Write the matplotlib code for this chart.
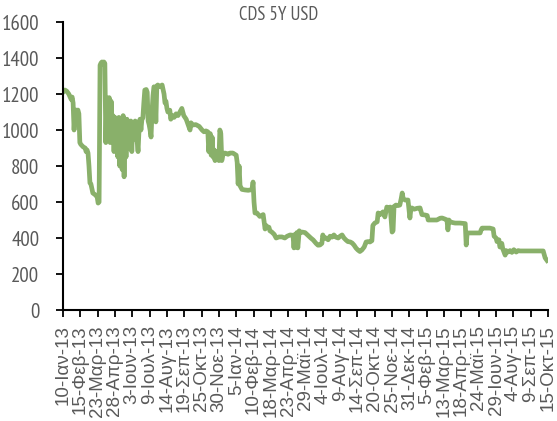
import pandas as pd
from matplotlib import pyplot as plt

start = pd.Timestamp('2013-01-10')
# days after 10-Jan-13 and the CDS level
days = [0, 4, 8, 12, 17, 19, 21, 23, 25, 27, 29, 31, 33, 35, 37, 42, 46, 48, 50, 52,
        54, 56, 58, 62, 67, 71, 73, 75, 77, 79, 81, 83, 85, 87, 89, 91, 94, 96, 98, 100,
        102, 104, 106, 108, 110, 112, 114, 116, 118, 121, 123, 125, 127, 129, 131, 133, 135, 137, 139, 141,
        143, 145, 148, 150, 152, 154, 156, 158, 160, 162, 164, 166, 168, 170, 173, 175, 177, 179, 181, 183,
        185, 187, 189, 191, 193, 195, 197, 202, 206, 210, 212, 214, 216, 218, 222, 224, 227, 231, 235, 239,
        243, 247, 249, 251, 256, 260, 264, 266, 270, 276, 283, 289, 293, 297, 301, 303, 306, 308, 310, 312,
        314, 316, 318, 320, 322, 324, 326, 328, 330, 333, 337, 343, 347, 353, 360, 362, 364, 366, 368, 370,
        372, 378, 385, 389, 393, 395, 397, 399, 403, 409, 416, 420, 422, 424, 428, 430, 434, 439, 443, 449,
        455, 461, 466, 472, 478, 480, 482, 484, 486, 488, 491, 493, 497, 503, 507, 511, 515, 520, 526, 530,
        534, 538, 540, 542, 547, 551, 555, 559, 563, 567, 572, 576, 580, 584, 588, 592, 597, 601, 605, 609,
        613, 617, 621, 626, 630, 634, 638, 642, 644, 648, 653, 655, 659, 665, 669, 673, 678, 680, 684, 686,
        688, 692, 696, 700, 703, 705, 707, 711, 717, 721, 723, 725, 730, 736, 742, 746, 752, 757, 759, 767,
        777, 784, 788, 794, 798, 800, 802, 804, 811, 815, 825, 836, 838, 840, 846, 856, 867, 869, 871, 877,
        887, 894, 896, 900, 902, 906, 908, 912, 914, 919, 921, 925, 929, 933, 937, 942, 946, 950, 971, 998,
        1002, 1006]
cds = [1210, 1222, 1215, 1200, 1170, 1183, 1150, 1000, 1100, 1111, 1100, 1111, 1090, 930, 920, 906, 900, 880, 889, 872,
       800, 706, 700, 650, 640, 628, 594, 600, 1360, 1372, 1378, 1365, 1378, 1370, 930, 1178, 1060, 1180, 930, 1160,
       1000, 1080, 880, 1070, 960, 1060, 850, 1070, 800, 1040, 780, 1080, 740, 1060, 850, 1060, 900, 1040, 920, 1050,
       880, 1040, 950, 1050, 980, 940, 880, 1000, 1060, 1000, 1060, 1067, 1150, 1222, 1225, 1210, 1050, 1030, 1000, 961,
       1100, 1190, 1240, 1230, 1045, 1245, 1250, 1240, 1250, 1200, 1150, 1160, 1120, 1100, 1110, 1060, 1080, 1070, 1090, 1080,
       1100, 1120, 1100, 1080, 1060, 1030, 1000, 1040, 1028, 1030, 1020, 1000, 990, 995, 990, 880, 980, 860, 960, 850,
       890, 830, 880, 840, 880, 830, 1000, 980, 830, 870, 872, 865, 872, 872, 860, 820, 700, 800, 690, 680,
       670, 667, 665, 667, 670, 711, 600, 539, 539, 520, 530, 450, 470, 461, 460, 440, 433, 420, 400, 406,
       406, 400, 410, 417, 415, 345, 420, 350, 430, 345, 440, 430, 433, 430, 420, 410, 400, 389, 370, 360,
       361, 370, 417, 400, 400, 390, 410, 405, 417, 405, 400, 410, 417, 400, 389, 380, 378, 372, 360, 344,
       333, 325, 333, 350, 378, 380, 378, 385, 470, 483, 490, 539, 530, 545, 517, 572, 560, 572, 433, 440,
       575, 583, 580, 583, 620, 650, 620, 611, 611, 511, 560, 567, 560, 565, 567, 530, 528, 525, 500, 500,
       500, 510, 511, 505, 500, 445, 500, 490, 485, 483, 483, 480, 361, 428, 428, 428, 428, 445, 455, 455,
       455, 450, 410, 400, 380, 390, 350, 370, 340, 305, 330, 322, 330, 320, 335, 322, 330, 328, 328, 328,
       290, 275]
months = ['Ιαν', 'Φεβ', 'Μαρ', 'Απρ', 'Μαϊ', 'Ιουν', 'Ιουλ', 'Αυγ', 'Σεπ', 'Οκτ', 'Νοε', 'Δεκ']
yticks = list(range(0, 1601, 200))

dates = start + pd.to_timedelta(days, unit='D')
tick_dates = pd.date_range(start, periods=29, freq='36D')
tick_labels = ['%d-%s-%02d' % (d.day, months[d.month - 1], d.year % 100) for d in tick_dates]

grey = '#595959'
narrow = ['PT Sans Narrow', 'DejaVu Sans']

fig = plt.figure(figsize=(5.57, 4.21), dpi=100)
axe = fig.add_axes([63 / 557, 1 - 310 / 421, 485 / 557, 288 / 421])
axe.plot(dates, cds, color='#89b06a', linewidth=3.4, solid_joinstyle='round')

axe.set_xlim(tick_dates[0], tick_dates[-1])
axe.set_ylim(0, 1600)
axe.set_yticks(yticks)
axe.set_yticklabels([str(v) for v in yticks], family=narrow, fontsize=15, color=grey)
axe.set_xticks(tick_dates)
axe.set_xticklabels(tick_labels, rotation=90, family=['Liberation Sans', 'DejaVu Sans'],
                    fontsize=13.5, color=grey)
axe.tick_params(axis='y', length=5, width=1.3, pad=12)
axe.tick_params(axis='x', length=5, width=1.3, pad=6)
for s in ['top', 'right']:
    axe.spines[s].set_visible(False)
for s in ['left', 'bottom']:
    axe.spines[s].set_linewidth(1.5)

fig.text(0.5, 1 - 15 / 421, 'CDS 5Y USD', ha='center', va='center',
         family=narrow, fontsize=13.5, color=grey)

fig.savefig('out.png', dpi=100)
